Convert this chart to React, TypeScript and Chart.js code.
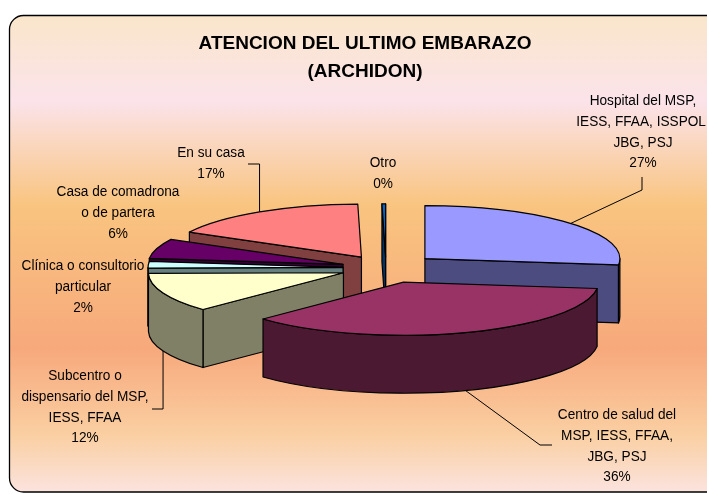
import React, { useEffect, useRef } from 'react';
import { Chart, registerables } from 'chart.js';

Chart.register(...registerables);

// ---- data ----
const categories: string[][] = [
  ['Hospital del MSP,', 'IESS, FFAA, ISSPOL,', 'JBG, PSJ'],
  ['Centro de salud del', 'MSP, IESS, FFAA,', 'JBG, PSJ'],
  ['Subcentro o', 'dispensario del MSP,', 'IESS, FFAA'],
  ['Clínica o consultorio', 'particular'],
  ['Casa de comadrona', 'o de partera'],
  ['En su casa'],
  ['Otro'],
];
const values: number[] = [26.9, 35.9, 12.0, 2.0, 6.0, 16.9, 0.3];
const titleLines: string[] = ['ATENCION DEL ULTIMO EMBARAZO', '(ARCHIDON)'];

// ---- styles ----
const topColors = ['#9999FF', '#993366', '#FFFFCC', '#CCFFFF', '#660066', '#FF8080', '#0066CC'];
const sideColors = ['#4C4C80', '#4C1933', '#808066', '#668080', '#330033', '#804040', '#003366'];
const explodePx = [52, 55, 46, 43, 45, 47, 41];
const TILT = 0.272;
const DEPTH = 58;
const FONT = "'Liberation Sans', Arial, sans-serif";

type Leader =
  | { kind: 'd'; at: 'top' | 'bottom'; pts: [number, number][] }
  | { kind: 'v'; at: 'top' | 'bottom'; y: number; endX: number }
  | null;

const labelLayout: { x: number; y: number; leader: Leader }[] = [
  { x: 643, y: 101, leader: { kind: 'd', at: 'top', pts: [[642, 190], [642, 177]] } },
  { x: 617, y: 415, leader: { kind: 'd', at: 'bottom', pts: [[540, 445], [552, 445]] } },
  { x: 85, y: 376, leader: { kind: 'v', at: 'bottom', y: 409, endX: 152 } },
  { x: 83, y: 266, leader: null },
  { x: 118, y: 192, leader: null },
  { x: 211, y: 153, leader: { kind: 'v', at: 'top', y: 164, endX: 248 } },
  { x: 383, y: 163, leader: null },
];

interface SliceGeo {
  i: number;
  cx: number;
  cy: number;
  rx: number;
  ry: number;
  s: number;
  e: number;
  mid: number;
}

function geometry(chart: any): SliceGeo[] {
  const meta = chart.getDatasetMeta(0);
  return meta.data.map((arc: any, i: number) => {
    const p = arc.getProps(['x', 'y', 'startAngle', 'endAngle', 'outerRadius'], true);
    const mid = (p.startAngle + p.endAngle) / 2;
    const off = explodePx[i];
    return {
      i,
      cx: p.x + off * Math.cos(mid),
      cy: p.y + off * Math.sin(mid) * TILT,
      rx: p.outerRadius,
      ry: p.outerRadius * TILT,
      s: p.startAngle,
      e: p.endAngle,
      mid,
    };
  });
}

const backgroundPlugin = {
  id: 'frameBg',
  beforeDraw(chart: any) {
    const ctx: CanvasRenderingContext2D = chart.ctx;
    const x = 9.5, y = 15.5, w = 740, h = 476.5, r = 14;
    ctx.save();
    const g = ctx.createLinearGradient(0, y, 0, y + h);
    g.addColorStop(0, '#FAE6CB');
    g.addColorStop(0.18, '#FBE3EA');
    g.addColorStop(0.4, '#F9C47F');
    g.addColorStop(0.7, '#F7A97C');
    g.addColorStop(0.88, '#FACFA2');
    g.addColorStop(1, '#FBE3DE');
    ctx.beginPath();
    ctx.moveTo(x + r, y);
    ctx.lineTo(x + w - r, y);
    ctx.arcTo(x + w, y, x + w, y + r, r);
    ctx.lineTo(x + w, y + h - r);
    ctx.arcTo(x + w, y + h, x + w - r, y + h, r);
    ctx.lineTo(x + r, y + h);
    ctx.arcTo(x, y + h, x, y + h - r, r);
    ctx.lineTo(x, y + r);
    ctx.arcTo(x, y, x + r, y, r);
    ctx.closePath();
    ctx.fillStyle = g;
    ctx.fill();
    ctx.strokeStyle = '#000';
    ctx.lineWidth = 1.3;
    ctx.stroke();
    ctx.restore();
  },
};

const pie3dPlugin = {
  id: 'pie3d',
  beforeDatasetsDraw(chart: any) {
    const ctx: CanvasRenderingContext2D = chart.ctx;
    const geo = geometry(chart).sort((a, b) => Math.sin(a.mid) - Math.sin(b.mid));
    ctx.save();
    ctx.lineJoin = 'round';
    ctx.strokeStyle = '#000';
    ctx.lineWidth = 1.2;
    const face = (pts: number[][], fill: string) => {
      ctx.beginPath();
      pts.forEach(([px, py], k) => (k ? ctx.lineTo(px, py) : ctx.moveTo(px, py)));
      ctx.closePath();
      ctx.fillStyle = fill;
      ctx.fill();
      ctx.stroke();
    };
    for (const g of geo) {
      const { cx, cy, rx, ry, s, e, i } = g;
      const P = (a: number) => [cx + rx * Math.cos(a), cy + ry * Math.sin(a)];
      const side = sideColors[i];
      if (Math.cos(s) < 0) {
        const p = P(s);
        face([[cx, cy], p, [p[0], p[1] + DEPTH], [cx, cy + DEPTH]], side);
      }
      if (Math.cos(e) > 0) {
        const p = P(e);
        face([[cx, cy], p, [p[0], p[1] + DEPTH], [cx, cy + DEPTH]], side);
      }
      const a1 = Math.max(s, 0);
      const a2 = Math.min(e, Math.PI);
      if (a2 > a1) {
        ctx.beginPath();
        ctx.ellipse(cx, cy, rx, ry, 0, a1, a2);
        ctx.ellipse(cx, cy + DEPTH, rx, ry, 0, a2, a1, true);
        ctx.closePath();
        ctx.fillStyle = side;
        ctx.fill();
        ctx.stroke();
      }
      ctx.beginPath();
      ctx.moveTo(cx, cy);
      ctx.ellipse(cx, cy, rx, ry, 0, s, e);
      ctx.closePath();
      ctx.fillStyle = topColors[i];
      ctx.fill();
      ctx.stroke();
    }
    ctx.restore();
    return false;
  },
};

const labelPlugin = {
  id: 'labels3d',
  afterDraw(chart: any) {
    const ctx: CanvasRenderingContext2D = chart.ctx;
    const geo = geometry(chart);
    const total = values.reduce((a, b) => a + b, 0);
    ctx.save();
    // title
    ctx.fillStyle = '#000';
    ctx.textAlign = 'center';
    ctx.textBaseline = 'middle';
    ctx.font = `bold 19px ${FONT}`;
    titleLines.forEach((t, k) => ctx.fillText(t, 365, 44 + k * 28));
    // labels
    ctx.font = `15.5px ${FONT}`;
    labelLayout.forEach((L, i) => {
      const lines = [...categories[i], Math.round((values[i] / total) * 100) + '%'];
      lines.forEach((t, k) => {
        ctx.save();
        ctx.translate(L.x, L.y + k * 20.7);
        ctx.scale(0.88, 1);
        ctx.fillText(t, 0, 0);
        ctx.restore();
      });
      const ld = L.leader;
      if (ld) {
        const g = geo[i];
        const ax = g.cx + g.rx * Math.cos(g.mid);
        const ay = g.cy + g.ry * Math.sin(g.mid) + (ld.at === 'bottom' ? DEPTH : 0);
        ctx.beginPath();
        ctx.moveTo(ax, ay);
        if (ld.kind === 'd') {
          ld.pts.forEach(([px, py]) => ctx.lineTo(px, py));
        } else {
          ctx.lineTo(ax, ld.y);
          ctx.lineTo(ld.endX, ld.y);
        }
        ctx.strokeStyle = '#000';
        ctx.lineWidth = 1;
        ctx.stroke();
      }
    });
    ctx.restore();
  },
};

export default function App() {
  const ref = useRef<HTMLCanvasElement | null>(null);
  useEffect(() => {
    if (!ref.current) return;
    const chart = new Chart(ref.current, {
      type: 'pie',
      data: {
        labels: categories.map((c) => c.join(' ')),
        datasets: [
          {
            data: values,
            backgroundColor: topColors,
            borderWidth: 0,
            radius: 195,
          } as any,
        ],
      },
      options: {
        animation: false,
        responsive: false,
        radius: 195,
        layout: { padding: { left: 65, right: 0, top: 42, bottom: 0 } },
        plugins: {
          legend: { display: false },
          tooltip: { enabled: false },
          title: { display: false },
        },
      } as any,
      plugins: [backgroundPlugin, pie3dPlugin, labelPlugin],
    });
    return () => chart.destroy();
  }, []);
  return (
    <div style={{ position: 'absolute', left: 0, top: 0, width: 707, height: 494, background: '#fff' }}>
      <canvas ref={ref} width={707} height={494} style={{ display: 'block' }} />
    </div>
  );
}
